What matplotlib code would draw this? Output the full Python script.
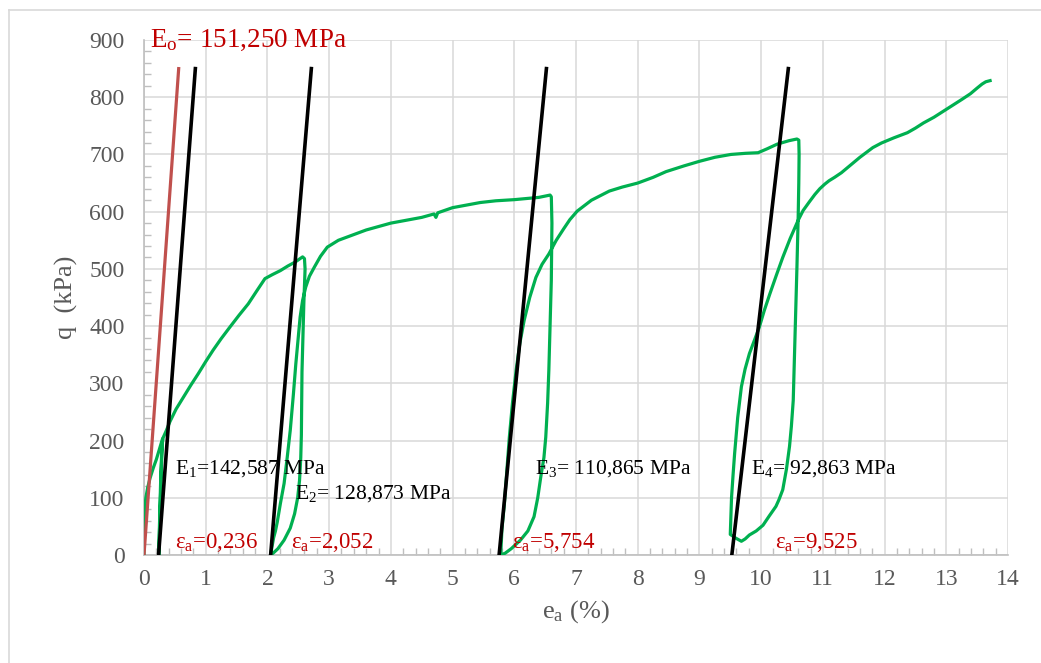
import matplotlib
matplotlib.use("Agg")
import matplotlib.pyplot as plt
from matplotlib.ticker import MultipleLocator
from matplotlib.lines import Line2D

plt.rcParams['font.family'] = ['Liberation Serif', 'DejaVu Serif']
plt.rcParams['mathtext.fontset'] = 'custom'
plt.rcParams['mathtext.rm'] = 'Liberation Serif'

# test curve: axial strain (%) and deviator stress q (kPa)
strain = [0, 0.002, 0.005, 0.012, 0.03, 0.06, 0.1, 0.15, 0.2, 0.26, 0.30,
          0.28, 0.255, 0.24, 0.25, 0.27, 0.29, 0.31,
          0.36, 0.42, 0.52, 0.64, 0.76, 0.88, 1.0, 1.12, 1.25, 1.39, 1.54,
          1.69, 1.83, 1.96, 2.08, 2.21, 2.33, 2.45, 2.57, 2.60,
          2.61, 2.60, 2.59, 2.575, 2.56, 2.555, 2.55, 2.54, 2.52, 2.49, 2.44,
          2.37, 2.27, 2.17, 2.08, 2.05,
          2.07, 2.10, 2.13, 2.16, 2.21, 2.27, 2.32, 2.37, 2.42, 2.46, 2.50,
          2.53, 2.57, 2.62, 2.68, 2.76, 2.86, 2.97, 3.15, 3.35, 3.6, 4.0,
          4.3, 4.5, 4.7, 4.73, 4.76, 5.0, 5.2, 5.45, 5.7, 6.0, 6.2, 6.4,
          6.58, 6.60,
          6.61, 6.605, 6.60, 6.59, 6.575, 6.56, 6.54, 6.51, 6.48, 6.43, 6.38,
          6.32, 6.22, 6.1, 5.95, 5.85, 5.78,
          5.80, 5.84, 5.88, 5.92, 5.97, 6.03, 6.09, 6.16, 6.25, 6.35, 6.45,
          6.56, 6.68, 6.8, 6.9, 7.02, 7.25, 7.54, 7.75, 8.0, 8.25, 8.46,
          8.75, 9.0, 9.25, 9.51, 9.75, 9.95, 10.1, 10.26, 10.45, 10.58, 10.61,
          10.615, 10.61, 10.60, 10.59, 10.58, 10.565, 10.55, 10.535, 10.52,
          10.49, 10.46, 10.41, 10.35, 10.29, 10.24, 10.13, 10.03, 9.92, 9.81,
          9.74, 9.68, 9.58, 9.50,
          9.51, 9.52, 9.545, 9.57, 9.62, 9.68, 9.74, 9.81, 9.89, 9.97, 10.05,
          10.14, 10.25, 10.35, 10.47, 10.6, 10.68, 10.78, 10.87, 10.95, 11.03,
          11.1, 11.19, 11.3, 11.4, 11.6, 11.81, 11.95, 12.15, 12.37, 12.5,
          12.63, 12.8, 12.96, 13.12, 13.25, 13.39, 13.5, 13.58, 13.64, 13.71]
q = [0, 30, 60, 80, 100, 118, 135, 152, 167, 189, 203,
     150, 60, 0, 50, 130, 190, 205,
     217, 233, 255, 276, 297, 317, 338, 358, 378, 398, 419,
     439, 462, 483, 490, 497, 505, 512, 521, 518,
     500, 470, 440, 380, 320, 260, 210, 170, 130, 100, 72,
     47, 26, 11, 2, 0,
     12, 30, 42, 58, 90, 125, 170, 218, 280, 334, 380,
     416, 445, 468, 487, 503, 522, 538, 550, 558, 568, 580,
     586, 590, 596, 590, 598, 607, 611, 616, 619, 621, 623, 625,
     629, 626,
     580, 526, 480, 439, 380, 323, 265, 206, 170, 137, 100,
     67, 42, 26, 11, 3, 0,
     45, 90, 148, 206, 265, 323, 370, 410, 450, 485, 508,
     526, 550, 570, 586, 601, 620, 636, 643, 650, 660, 670,
     680, 688, 695, 700, 702, 703, 710, 718, 724, 727, 725,
     700, 650, 590, 545, 503, 445, 386, 325, 270,
     225, 190, 150, 114, 97, 85, 68, 52, 42, 35,
     28, 24, 30, 36,
     70, 100, 140, 177, 240, 294, 325, 352, 375, 398, 427,
     456, 490, 520, 553, 585, 602, 617, 630, 640, 648,
     654, 660, 668, 677, 695, 712, 720, 729, 738, 746,
     755, 765, 776, 787, 796, 806, 816, 823, 827, 829]

# moduli (MPa) and plastic strain (%) at the start of each line
e0 = 151.250
moduli = [142.587, 128.873, 110.865, 92.863]
eps_start = [0.236, 2.052, 5.754, 9.525]
q_top = 850

mod_labels = ['E$\\mathregular{_1}$=142,587 MPa', 'E$\\mathregular{_2}$= 128,873 MPa',
              'E$\\mathregular{_3}$= 110,865 MPa', 'E$\\mathregular{_4}$= 92,863 MPa']
mod_pos = [(0.495, 143), (2.45, 99), (6.34, 143), (9.84, 143)]
eps_labels = ['ε$\\mathregular{_a}$=0,236', 'ε$\\mathregular{_a}$=2,052',
              'ε$\\mathregular{_a}$=5,754', 'ε$\\mathregular{_a}$=9,525']
eps_pos = [(0.51, 12), (2.39, 12), (5.96, 12), (10.23, 12)]

fig = plt.figure(figsize=(10.41, 6.63), dpi=100)
ax = fig.add_axes([144 / 1041, 1 - 555 / 663, 864 / 1041, 515 / 663])

# thin border of the chart area (only top and left show)
fig.add_artist(Line2D([9 / 1041, 1], [1 - 10 / 663, 1 - 10 / 663], color='#D9D9D9', lw=1.2))
fig.add_artist(Line2D([9 / 1041, 9 / 1041], [0, 1 - 10 / 663], color='#D9D9D9', lw=1.2))

ax.plot(strain, q, color='#00B050', lw=2.3, zorder=3, solid_joinstyle='round')

# initial modulus line
ax.plot([0, q_top / (e0 * 10)], [0, q_top], color='#C0504D', lw=2.3, zorder=4)
for E, s in zip(moduli, eps_start):
    ax.plot([s, s + q_top / (E * 10)], [0, q_top], color='black', lw=2.6, zorder=5)

ax.text(0.1, 888, 'E$\\mathregular{_o}$= 151,250 MPa', color='#C00000', fontsize=19.5,
        ha='left', va='baseline', zorder=6)
for lab, (x, y) in zip(mod_labels, mod_pos):
    ax.text(x, y, lab, color='black', fontsize=15.5, ha='left', va='baseline', zorder=6)
for lab, (x, y) in zip(eps_labels, eps_pos):
    ax.text(x, y, lab, color='#C00000', fontsize=16.5, ha='left', va='baseline', zorder=6)

ax.set_xlim(0, 14)
ax.set_ylim(0, 900)
ax.xaxis.set_major_locator(MultipleLocator(1))
ax.xaxis.set_minor_locator(MultipleLocator(0.2))
ax.yaxis.set_major_locator(MultipleLocator(100))
ax.yaxis.set_minor_locator(MultipleLocator(20))
ax.grid(True, which='major', color='#D9D9D9', lw=1.1, zorder=0)
ax.set_axisbelow(True)
ax.tick_params(which='major', length=0, labelsize=17, labelcolor='#595959')
ax.tick_params(axis='y', which='major', pad=14)
ax.tick_params(axis='x', which='major', pad=10)
ax.tick_params(which='minor', direction='in', length=5, width=1, color='#BFBFBF')
for side in ['top', 'right']:
    ax.spines[side].set_visible(False)
for side in ['left', 'bottom']:
    ax.spines[side].set_color('#BFBFBF')
    ax.spines[side].set_linewidth(1.2)

ax.set_ylabel('q  (kPa)', fontsize=19, color='#595959', labelpad=8)
ax.set_xlabel('e$\\mathregular{_a}$ (%)', fontsize=19, color='#595959', labelpad=6)

fig.savefig('out.png', dpi=100)
